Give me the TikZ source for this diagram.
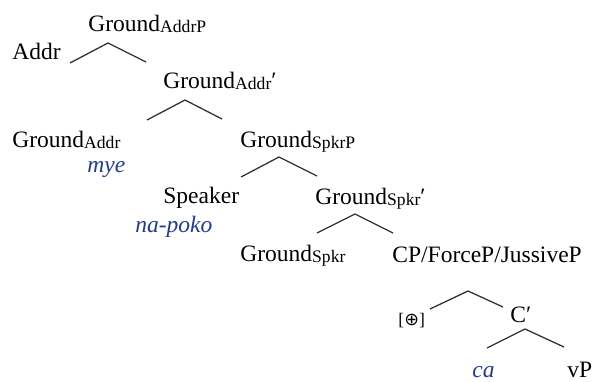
\documentclass[tikz,border=0pt]{standalone}
\usepackage{fontspec}
\setmainfont{Liberation Serif}
\newfontfamily\symfont{DejaVu Sans}
\usetikzlibrary{positioning,calc}
\definecolor{glossBlue}{RGB}{38,58,140}
\tikzstyle{branch} = [draw, line width=.65pt, black!80]
\newcommand{\subtxt}[1]{{\fontsize{8.8}{9}\selectfont\raisebox{-.6pt}{#1}}}

\begin{document}
\begin{tikzpicture}[
    x=0.5pt, y=-0.5pt,
    cat/.style={
      anchor=base west,
      inner sep=0pt,
      font=\fontsize{11.75}{13}\selectfont,
    },
    gloss/.style={
      anchor=base west,
      inner sep=0pt,
      text=glossBlue,
      font=\fontsize{11.75}{13}\selectfont\itshape,
    },
  ]
  \useasboundingbox (0,0) rectangle (597,381);

  % nodes
  \node[cat] (addrP) at (88,31) {Ground\subtxt{AddrP}};
  \node[cat] (addr) at (12,59) {Addr};
  \node[cat] (addrbar) at (163,88) {Ground\subtxt{Addr}′};
  \node[cat] (addrhead) at (12,147) {Ground\subtxt{Addr}};
  \node[gloss] (mye) at (87,172) {mye};
  \node[cat] (spkrP) at (240,147) {Ground\subtxt{SpkrP}};
  \node[cat] (speaker) at (163,203) {Speaker};
  \node[gloss] (napoko) at (135,232) {na-poko};
  \node[cat] (spkrbar) at (315,204) {Ground\subtxt{Spkr}′};
  \node[cat] (spkrhead) at (240,261) {Ground\subtxt{Spkr}};
  \node[cat] (cp) at (392,262) {CP/ForceP/JussiveP};
  \node[cat,font=\fontsize{8.8}{9}\selectfont] (op) at (398,325) {[{\symfont ⊕}]};
  \node[cat] (cbar) at (510,322) {C′};
  \node[gloss] (ca) at (472,377) {ca};
  \node[cat] (vP) at (567,377) {vP};

  % branch points
  \coordinate (addrP-t) at (108,43);
  \coordinate (addrP-l) at (70,63);
  \coordinate (addrP-r) at (146,62);
  \coordinate (addrbar-t) at (185,100);
  \coordinate (addrbar-l) at (147,120);
  \coordinate (addrbar-r) at (222,119);
  \coordinate (spkrP-t) at (279,157);
  \coordinate (spkrP-l) at (241,177);
  \coordinate (spkrP-r) at (317,176);
  \coordinate (spkrbar-t) at (355,214);
  \coordinate (spkrbar-l) at (317,233);
  \coordinate (spkrbar-r) at (393,233);
  \coordinate (cp-t) at (468,291);
  \coordinate (cp-l) at (430,309);
  \coordinate (cp-r) at (503,307);
  \coordinate (cbar-t) at (525,329);
  \coordinate (cbar-l) at (487,348);
  \coordinate (cbar-r) at (564,347);

  \draw[branch] (addrP-l) -- (addrP-t) -- (addrP-r);
  \draw[branch] (addrbar-l) -- (addrbar-t) -- (addrbar-r);
  \draw[branch] (spkrP-l) -- (spkrP-t) -- (spkrP-r);
  \draw[branch] (spkrbar-l) -- (spkrbar-t) -- (spkrbar-r);
  \draw[branch] (cp-l) -- (cp-t) -- (cp-r);
  \draw[branch] (cbar-l) -- (cbar-t) -- (cbar-r);

\end{tikzpicture}
\end{document}
